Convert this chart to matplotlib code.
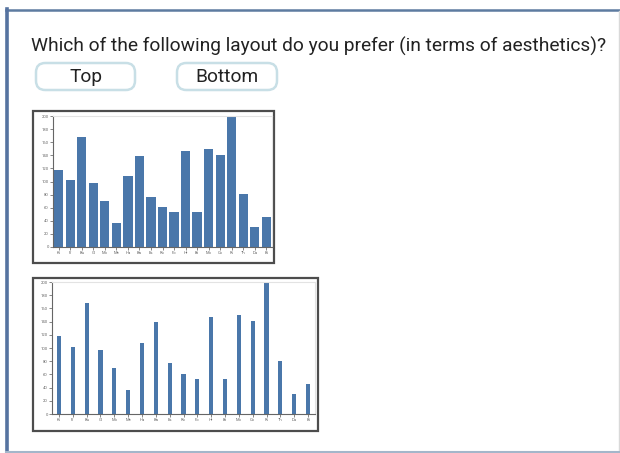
import matplotlib.pyplot as plt
from matplotlib.patches import Rectangle, FancyBboxPatch
from matplotlib.lines import Line2D
import numpy as np

plt.rcParams['font.family'] = ['Roboto', 'DejaVu Sans']

question = "Which of the following layout do you prefer (in terms of aesthetics)?"
options = ["Top", "Bottom"]
categories = ["Ki", "Fi", "Bu", "Gl", "Mo", "Me", "Ha", "Ba", "Es", "Ro",
              "Fo", "Hr", "Br", "Mo", "Co", "Ri", "Th", "Da", "Bi"]
values = [118, 102, 168, 97, 70, 36, 108, 139, 77, 61, 53, 147, 53, 150, 141, 200, 81, 31, 46]
y_ticks = list(range(0, 201, 20))

W, H = 620, 453
fig = plt.figure(figsize=(W / 100, H / 100), dpi=100)

def fx(x):
    return x / W

def fy(y):
    return 1 - y / H

def px_rect(x0, y0, x1, y1):
    # figure-fraction [left, bottom, width, height] from pixel box
    return [fx(x0), fy(y1), (x1 - x0) / W, (y1 - y0) / H]

# outer panel border
fig.add_artist(Line2D([fx(6), fx(619)], [fy(10), fy(10)], color="#5d7ba0", lw=1.8))
fig.add_artist(Line2D([fx(7), fx(7)], [fy(9), fy(453)], color="#5673a0", lw=2.6))
fig.add_artist(Line2D([fx(619), fx(619)], [fy(11), fy(452)], color="#d9d9d9", lw=1.0))
fig.add_artist(Line2D([fx(6), fx(620)], [fy(452), fy(452)], color="#a4b6ca", lw=1.5))

fig.text(fx(31), fy(52), question, fontsize=13.8, color="#222222", ha="left", va="baseline")

# answer buttons
for label, (x0, x1) in zip(options, [(36, 135), (177, 277)]):
    btn = FancyBboxPatch((fx(x0), fy(90)), (x1 - x0) / W, 27 / H,
                         boxstyle="round,pad=0,rounding_size=0.015",
                         transform=fig.transFigure, facecolor="white",
                         edgecolor="#c8dfe6", lw=1.8, mutation_aspect=W / H)
    fig.add_artist(btn)
    fig.text(fx((x0 + x1) / 2), fy(76.5), label, fontsize=13.8, color="#222222",
             ha="center", va="center")

def draw_chart(frame, axbox, bar_width):
    fig.add_artist(Rectangle((fx(frame[0]), fy(frame[3])), (frame[2] - frame[0]) / W,
                             (frame[3] - frame[1]) / H, transform=fig.transFigure,
                             facecolor="white", edgecolor="#4d4d4d", lw=1.6, zorder=-1))
    ax = fig.add_axes(px_rect(*axbox))
    ax.set_zorder(2)
    ax.patch.set_alpha(0)
    x = np.arange(len(categories))
    ax.bar(x, values, width=bar_width, color="#4a77aa")
    ax.set_xlim(-0.5, len(categories) - 0.5)
    ax.set_ylim(0, 200)
    ax.set_xticks(x)
    ax.set_xticklabels(categories)
    ax.set_yticks(y_ticks)
    ax.tick_params(labelsize=3, labelcolor="#666666", length=2, width=0.5,
                   color="#555555", pad=1)
    for s in ["left", "bottom"]:
        ax.spines[s].set_color("#666666")
        ax.spines[s].set_linewidth(0.8)
    for s in ["top", "right"]:
        ax.spines[s].set_color("#e3e3e3")
        ax.spines[s].set_linewidth(0.8)
    return ax

draw_chart((33, 111, 274, 263), (53, 116, 272, 247), 0.8)
draw_chart((33, 278, 318, 431), (52, 282, 315, 414), 0.3)

plt.savefig("out.png", dpi=100)
